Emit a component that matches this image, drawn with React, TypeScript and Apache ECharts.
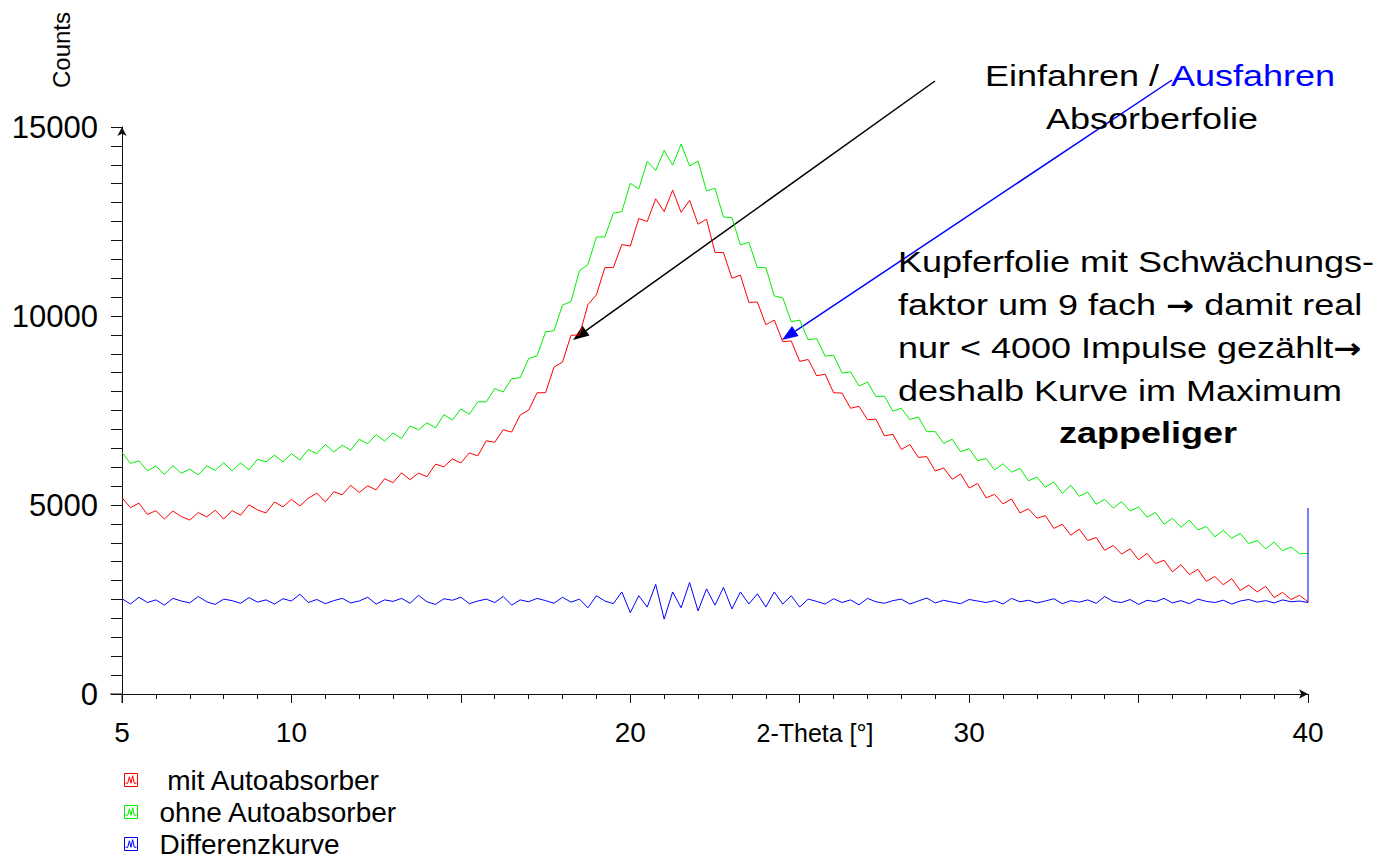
import React, { useEffect, useRef } from "react";
import * as echarts from "echarts";

const FONT = '"Liberation Sans", Arial, Helvetica, sans-serif';

// 2-Theta sampling of the read-off values
const thetaStart = 5;
const thetaStep = 0.25;

// mit Autoabsorber (red)
const redCounts = [
  5190, 4930, 5050, 4750, 4850, 4630, 4840, 4695, 4600, 4800,
  4685, 4860, 4630, 4850, 4730, 5005, 4870, 4790, 5080, 4950,
  5150, 4975, 5180, 5315, 5080, 5350, 5270, 5520, 5330, 5510,
  5400, 5695, 5590, 5850, 5670, 5845, 5750, 6080, 6010, 6220,
  6110, 6380, 6300, 6700, 6660, 6990, 6930, 7380, 7510, 7970,
  7970, 8650, 8780, 9490, 9500, 10300, 10560, 11280, 11280, 11890,
  11850, 12580, 12500, 13100, 12760, 13330, 12740, 13060, 12430, 12560,
  11680, 11680, 11000, 11080, 10360, 10370, 9770, 9890, 9320, 9340,
  8800, 8850, 8420, 8460, 7970, 7960, 7560, 7610, 7260, 7270,
  6830, 6870, 6470, 6600, 6260, 6280, 5900, 5980, 5680, 5820,
  5450, 5570, 5190, 5280, 5030, 5160, 4790, 4900, 4650, 4720,
  4380, 4490, 4200, 4360, 4060, 4140, 3800, 3930, 3700, 3840,
  3550, 3720, 3450, 3540, 3230, 3420, 3160, 3300, 2980, 3110,
  2890, 3050, 2740, 2880, 2700, 2850, 2550, 2690, 2500, 2610,
  2440,
];

// ohne Autoabsorber (green)
const greenCounts = [
  6390, 6100, 6170, 5900, 6030, 5810, 6040, 5840, 5950, 5795,
  6035, 5915, 6120, 5900, 6115, 5930, 6210, 6140, 6320, 6140,
  6360, 6190, 6470, 6355, 6600, 6405, 6580, 6450, 6740, 6620,
  6860, 6690, 6905, 6760, 7090, 6990, 7175, 7040, 7390, 7250,
  7540, 7400, 7730, 7730, 8080, 7990, 8340, 8370, 8870, 8950,
  9580, 9610, 10290, 10380, 11200, 11360, 12090, 12090, 12720, 12760,
  13510, 13360, 14090, 13850, 14380, 13990, 14550, 13970, 14100, 13310,
  13380, 12620, 12600, 11880, 11950, 11280, 11280, 10530, 10480, 9850,
  9890, 9370, 9400, 8940, 8960, 8490, 8520, 8150, 8250, 7870,
  7880, 7480, 7560, 7260, 7330, 6940, 6940, 6630, 6740, 6410,
  6490, 6170, 6230, 5930, 6090, 5870, 5970, 5640, 5740, 5470,
  5610, 5310, 5520, 5230, 5340, 5020, 5150, 4920, 5090, 4840,
  4950, 4680, 4800, 4490, 4650, 4410, 4600, 4340, 4430, 4160,
  4330, 4120, 4250, 3980, 4060, 3840, 4020, 3790, 3890, 3710,
  3720,
];

// Differenzkurve (blue)
const blueCounts = [
  2520, 2380, 2560, 2420, 2490, 2350, 2530, 2460, 2410, 2580,
  2440, 2370, 2510, 2470, 2400, 2550, 2430, 2490, 2380, 2520,
  2460, 2640, 2420, 2500, 2390, 2470, 2530, 2410, 2460, 2560,
  2380, 2490, 2450, 2530, 2400, 2610, 2440, 2370, 2520, 2480,
  2560, 2390, 2460, 2510, 2420, 2580, 2350, 2490, 2440, 2530,
  2470, 2400, 2560, 2430, 2510, 2280, 2600, 2460, 2390, 2700,
  2150, 2600, 2300, 2900, 1980, 2700, 2280, 2950, 2200, 2780,
  2350, 2820, 2250, 2700, 2380, 2650, 2300, 2700, 2380, 2600,
  2300, 2510, 2450, 2380, 2520, 2420, 2490, 2360, 2530, 2440,
  2400, 2470, 2510, 2380, 2460, 2540, 2410, 2480, 2430, 2390,
  2500, 2460, 2420, 2470, 2380, 2530, 2440, 2480, 2410, 2460,
  2520, 2390, 2470, 2430, 2490, 2400, 2580, 2450, 2420, 2500,
  2370, 2480, 2440, 2530, 2410, 2470, 2390, 2510, 2450, 2420,
  2480, 2380, 2460, 2500, 2430, 2470, 2410, 2490, 2440, 2460,
  2420,
];
const blueEndTheta = 40;
const blueEndSpike = 4920;

const xLabelled = [5, 10, 20, 30, 40];
const seriesNames = ["mit Autoabsorber", "ohne Autoabsorber", "Differenzkurve"];
const seriesColors = ["#ff0000", "#00ee00", "#0000ff"];

const toPairs = (arr: number[]) => arr.map((v, i) => [thetaStart + i * thetaStep, v]);

const ICON =
  "path://M0,0 L12,0 L12,12 L0,12 Z M1,9 L3,9 L4.5,3 L6,9 L7.5,2 L9,9 L11,9";

export default function App() {
  const ref = useRef<HTMLDivElement>(null);
  useEffect(() => {
    document.body.style.margin = "0";
    const chart = echarts.init(ref.current!, null, { renderer: "svg" });
    const axisColor = "#111";
    const rich = {
      a: { fontSize: 30, fontFamily: FONT, fill: "#000", color: "#000" },
      b: { fontSize: 28, fontFamily: '"DejaVu Sans", sans-serif', fontWeight: "bold", fill: "#000", color: "#000" },
    };
    const textLines = [
      { t: "{a|Kupferfolie mit Schwächungs-}", y: 262 },
      { t: "{a|faktor um 9 fach }{b|\u2192}{a| damit real}", y: 305 },
      { t: "{a|nur < 4000 Impulse gezählt}{b|\u2192}", y: 348 },
      { t: "{a|deshalb Kurve im Maximum}", y: 391 },
    ];
    const option: any = {
      animation: false,
      grid: { left: 122, right: 91, top: 127, bottom: 171 },
      xAxis: {
        type: "value",
        min: 5,
        max: 40,
        interval: 5,
        axisLine: {
          show: true,
          lineStyle: { color: axisColor, width: 1 },
          symbol: ["none", "arrow"],
          symbolSize: [7, 9],
        },
        axisTick: { show: true, length: 9, lineStyle: { color: axisColor } },
        minorTick: { show: true, splitNumber: 5, length: 5, lineStyle: { color: axisColor } },
        splitLine: { show: false },
        minorSplitLine: { show: false },
        axisLabel: {
          margin: 24,
          fontSize: 28,
          color: "#000",
          fontFamily: FONT,
          showMinLabel: true,
          showMaxLabel: true,
          formatter: (v: number) => (xLabelled.includes(v) ? String(v) : ""),
        },
      },
      yAxis: {
        type: "value",
        min: 0,
        max: 15000,
        interval: 5000,
        axisLine: {
          show: true,
          lineStyle: { color: axisColor, width: 1 },
          symbol: ["none", "arrow"],
          symbolSize: [7, 9],
        },
        axisTick: { show: true, length: 11, lineStyle: { color: axisColor } },
        minorTick: { show: true, splitNumber: 10, length: 11, lineStyle: { color: axisColor } },
        splitLine: { show: false },
        minorSplitLine: { show: false },
        axisLabel: {
          margin: 24,
          fontSize: 31,
          color: "#000",
          fontFamily: FONT,
          formatter: (v: number) => String(v),
        },
      },
      legend: {
        orient: "vertical",
        left: 124,
        top: 766,
        height: 130,
        padding: 0,
        itemWidth: 13,
        itemHeight: 13,
        itemGap: 4,
        textStyle: { fontSize: 28, color: "#000", fontFamily: FONT, padding: [0, 0, 0, 17] },
        data: seriesNames.map((n, i) => ({
          name: n,
          icon: ICON,
          itemStyle: { color: "transparent", borderColor: seriesColors[i], borderWidth: 1 },
        })),
        formatter: (n: string) => (n === seriesNames[0] ? " " + n : n),
      },
      series: [
        {
          name: seriesNames[1],
          type: "line",
          data: toPairs(greenCounts),
          showSymbol: false,
          lineStyle: { color: seriesColors[1], width: 1 },
          itemStyle: { color: seriesColors[1] },
        },
        {
          name: seriesNames[0],
          type: "line",
          data: toPairs(redCounts),
          showSymbol: false,
          lineStyle: { color: seriesColors[0], width: 1 },
          itemStyle: { color: seriesColors[0] },
        },
        {
          name: seriesNames[2],
          type: "line",
          data: [...toPairs(blueCounts), [blueEndTheta, blueEndSpike]],
          showSymbol: false,
          lineStyle: { color: seriesColors[2], width: 1 },
          itemStyle: { color: seriesColors[2] },
        },
      ],
      graphic: [
        // axis stubs past the origin
        { type: "line", shape: { x1: 110, y1: 694, x2: 122, y2: 694 }, style: { stroke: axisColor, lineWidth: 1 } },
        { type: "line", shape: { x1: 122, y1: 694, x2: 122, y2: 703 }, style: { stroke: axisColor, lineWidth: 1 } },
        {
          type: "text",
          x: 61,
          y: 50,
          rotation: Math.PI / 2,
          style: { text: "Counts", fontSize: 24, fontFamily: FONT, fill: "#000", align: "center", verticalAlign: "middle" },
        },
        {
          type: "text",
          x: 815,
          y: 733,
          style: { text: "2-Theta [°]", fontSize: 25, fontFamily: FONT, fill: "#000", align: "center", verticalAlign: "middle" },
        },
        // arrows
        { type: "line", shape: { x1: 935, y1: 81, x2: 586, y2: 330.7 }, style: { stroke: "#000", lineWidth: 1.5 } },
        { type: "polygon", shape: { points: [[573, 340], [589.5, 335.6], [582.5, 325.8]] }, style: { fill: "#000" } },
        { type: "line", shape: { x1: 1172, y1: 80, x2: 795.3, y2: 331.1 }, style: { stroke: "#0000ff", lineWidth: 1.5 } },
        { type: "polygon", shape: { points: [[782, 340], [798.6, 336.1], [792, 326.1]] }, style: { fill: "#0000ff" } },
        // annotations
        {
          type: "text",
          x: 985,
          y: 76,
          scaleX: 1.2,
          style: { text: "Einfahren / ", fontSize: 30, fontFamily: FONT, fill: "#000", align: "left", verticalAlign: "middle" },
        },
        {
          type: "text",
          x: 1171,
          y: 76,
          scaleX: 1.2,
          style: { text: "Ausfahren", fontSize: 30, fontFamily: FONT, fill: "#0000ff", align: "left", verticalAlign: "middle" },
        },
        {
          type: "text",
          x: 1152,
          y: 119,
          scaleX: 1.2,
          style: { text: "Absorberfolie", fontSize: 30, fontFamily: FONT, fill: "#000", align: "center", verticalAlign: "middle" },
        },
        ...textLines.map((l) => ({
          type: "text",
          x: 898,
          y: l.y,
          scaleX: 1.2,
          style: { text: l.t, rich, fontSize: 30, fontFamily: FONT, fill: "#000", align: "left", verticalAlign: "middle" },
        })),
        {
          type: "text",
          x: 1148,
          y: 433,
          scaleX: 1.2,
          style: {
            text: "zappeliger",
            fontSize: 30,
            fontWeight: "bold",
            fontFamily: FONT,
            fill: "#000",
            align: "center",
            verticalAlign: "middle",
          },
        },
      ],
    };
    chart.setOption(option);
    return () => chart.dispose();
  }, []);
  return <div ref={ref} style={{ width: 1399, height: 865 }} />;
}
